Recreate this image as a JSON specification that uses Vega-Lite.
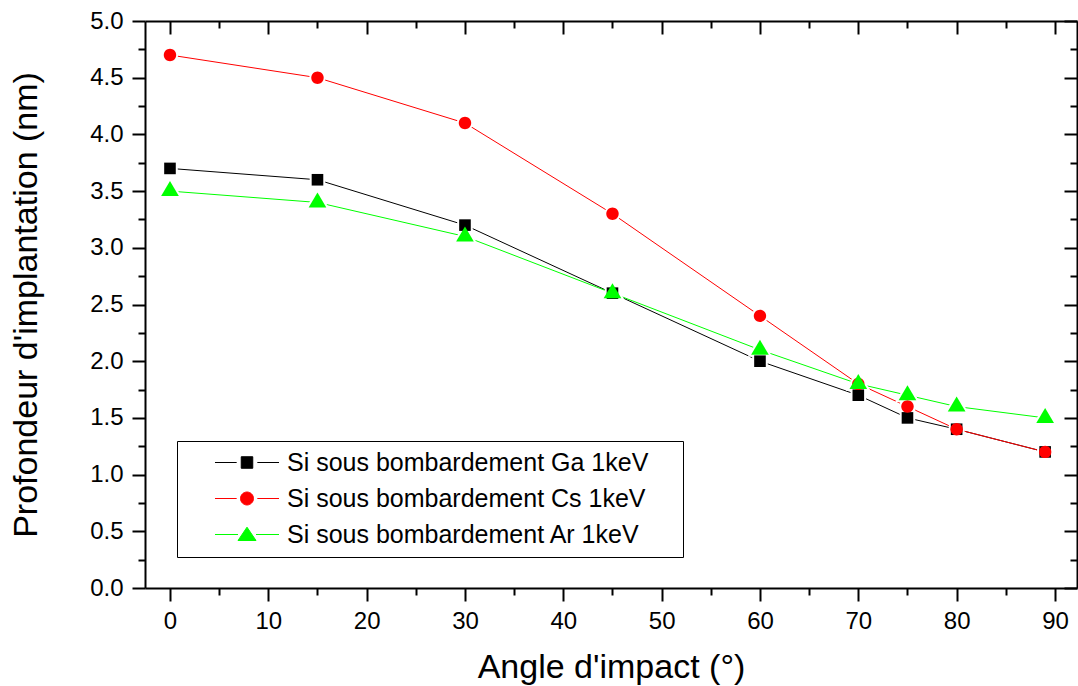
{
  "$schema": "https://vega.github.io/schema/vega-lite/v6.json",
  "width": 932,
  "height": 567,
  "autosize": {"type": "none"},
  "padding": {"left": 145, "top": 21, "right": 1, "bottom": 98},
  "background": "white",
  "config": {
    "font": "Liberation Sans",
    "view": {"stroke": null},
    "axis": {"grid": false}
  },
  "resolve": {"scale": {"shape": "independent", "fill": "independent", "stroke": "independent"}},
  "data": {
    "values": [
      {"angle": 0, "depth": 3.7, "series": "Si sous bombardement Ga 1keV"},
      {"angle": 15, "depth": 3.6, "series": "Si sous bombardement Ga 1keV"},
      {"angle": 30, "depth": 3.2, "series": "Si sous bombardement Ga 1keV"},
      {"angle": 45, "depth": 2.6, "series": "Si sous bombardement Ga 1keV"},
      {"angle": 60, "depth": 2.0, "series": "Si sous bombardement Ga 1keV"},
      {"angle": 70, "depth": 1.7, "series": "Si sous bombardement Ga 1keV"},
      {"angle": 75, "depth": 1.5, "series": "Si sous bombardement Ga 1keV"},
      {"angle": 80, "depth": 1.4, "series": "Si sous bombardement Ga 1keV"},
      {"angle": 89, "depth": 1.2, "series": "Si sous bombardement Ga 1keV"},
      {"angle": 0, "depth": 4.7, "series": "Si sous bombardement Cs 1keV"},
      {"angle": 15, "depth": 4.5, "series": "Si sous bombardement Cs 1keV"},
      {"angle": 30, "depth": 4.1, "series": "Si sous bombardement Cs 1keV"},
      {"angle": 45, "depth": 3.3, "series": "Si sous bombardement Cs 1keV"},
      {"angle": 60, "depth": 2.4, "series": "Si sous bombardement Cs 1keV"},
      {"angle": 70, "depth": 1.8, "series": "Si sous bombardement Cs 1keV"},
      {"angle": 75, "depth": 1.6, "series": "Si sous bombardement Cs 1keV"},
      {"angle": 80, "depth": 1.4, "series": "Si sous bombardement Cs 1keV"},
      {"angle": 89, "depth": 1.2, "series": "Si sous bombardement Cs 1keV"},
      {"angle": 0, "depth": 3.5, "series": "Si sous bombardement Ar 1keV"},
      {"angle": 15, "depth": 3.4, "series": "Si sous bombardement Ar 1keV"},
      {"angle": 30, "depth": 3.1, "series": "Si sous bombardement Ar 1keV"},
      {"angle": 45, "depth": 2.6, "series": "Si sous bombardement Ar 1keV"},
      {"angle": 60, "depth": 2.1, "series": "Si sous bombardement Ar 1keV"},
      {"angle": 70, "depth": 1.8, "series": "Si sous bombardement Ar 1keV"},
      {"angle": 75, "depth": 1.7, "series": "Si sous bombardement Ar 1keV"},
      {"angle": 80, "depth": 1.6, "series": "Si sous bombardement Ar 1keV"},
      {"angle": 89, "depth": 1.5, "series": "Si sous bombardement Ar 1keV"}
    ]
  },
  "layer": [
    {
      "mark": {"type": "line", "strokeWidth": 1},
      "encoding": {
        "x": {
          "field": "angle", "type": "quantitative",
          "scale": {"domain": [-2.54, 92.24], "nice": false, "zero": false},
          "axis": {
            "orient": "bottom",
            "title": "Angle d'impact (°)",
            "values": [0, 5, 10, 15, 20, 25, 30, 35, 40, 45, 50, 55, 60, 65, 70, 75, 80, 85, 90],
            "labelExpr": "datum.value % 10 === 0 ? datum.label : ''",
            "tickSize": {"expr": "datum.value % 10 === 0 ? 13 : 7"},
            "tickWidth": 2, "tickColor": "black",
            "domainWidth": 2, "domainColor": "black",
            "labelFontSize": 24, "labelColor": "black", "labelPadding": 8, "labelFlush": false, "labelOverlap": false,
            "titleFontSize": 34, "titleFontWeight": "normal", "titleColor": "black", "titlePadding": 17
          }
        },
        "y": {
          "field": "depth", "type": "quantitative",
          "scale": {"domain": [0, 5], "nice": false, "zero": false},
          "axis": {
            "orient": "left",
            "title": "Profondeur d'implantation (nm)",
            "values": [0, 0.25, 0.5, 0.75, 1, 1.25, 1.5, 1.75, 2, 2.25, 2.5, 2.75, 3, 3.25, 3.5, 3.75, 4, 4.25, 4.5, 4.75, 5],
            "format": ".1f",
            "labelExpr": "(datum.value * 2) % 1 === 0 ? datum.label : ''",
            "tickSize": {"expr": "(datum.value * 2) % 1 === 0 ? 13 : 7"},
            "tickWidth": 2, "tickColor": "black",
            "domainWidth": 2, "domainColor": "black",
            "labelFontSize": 24, "labelColor": "black", "labelPadding": 9, "labelFlush": false, "labelOverlap": false,
            "titleFontSize": 34, "titleFontWeight": "normal", "titleColor": "black", "titlePadding": 46
          }
        },
        "color": {
          "field": "series", "type": "nominal",
          "scale": {
            "domain": ["Si sous bombardement Ga 1keV", "Si sous bombardement Cs 1keV", "Si sous bombardement Ar 1keV"],
            "range": ["#000000", "#ff0000", "#00ff00"]
          },
          "legend": null
        }
      }
    },
    {
      "mark": {"type": "point", "filled": true, "fill": "white", "stroke": "white", "strokeWidth": 4, "opacity": 1, "size": 400},
      "encoding": {
        "x": {
          "field": "angle", "type": "quantitative",
          "scale": {"domain": [-2.54, 92.24], "nice": false, "zero": false},
          "axis": {
            "orient": "top", "title": null, "labels": false,
            "values": [0, 5, 10, 15, 20, 25, 30, 35, 40, 45, 50, 55, 60, 65, 70, 75, 80, 85, 90],
            "tickSize": {"expr": "datum.value % 10 === 0 ? -13 : -7"},
            "tickWidth": 2, "tickColor": "black",
            "domainWidth": 2, "domainColor": "black"
          }
        },
        "y": {
          "field": "depth", "type": "quantitative",
          "scale": {"domain": [0, 5], "nice": false, "zero": false},
          "axis": {
            "orient": "right", "title": null, "labels": false,
            "values": [0, 0.25, 0.5, 0.75, 1, 1.25, 1.5, 1.75, 2, 2.25, 2.5, 2.75, 3, 3.25, 3.5, 3.75, 4, 4.25, 4.5, 4.75, 5],
            "tickSize": {"expr": "(datum.value * 2) % 1 === 0 ? -13 : -7"},
            "tickWidth": 2, "tickColor": "black",
            "domainWidth": 2, "domainColor": "black"
          }
        },
        "shape": {
          "field": "series", "type": "nominal",
          "scale": {
            "domain": ["Si sous bombardement Ga 1keV", "Si sous bombardement Cs 1keV", "Si sous bombardement Ar 1keV"],
            "range": ["M-0.58,-0.58H0.58V0.58H-0.58Z", "M-0.62,0A0.62,0.62,0,1,0,0.62,0A0.62,0.62,0,1,0,-0.62,0Z", "M0,-1L0.885,0.5L-0.885,0.5Z"]
          },
          "legend": null
        }
      }
    },
    {
      "mark": {"type": "point", "filled": true, "opacity": 1, "strokeWidth": 0, "size": 400},
      "encoding": {
        "x": {"field": "angle", "type": "quantitative", "scale": {"domain": [-2.54, 92.24], "nice": false, "zero": false}, "axis": null},
        "y": {"field": "depth", "type": "quantitative", "scale": {"domain": [0, 5], "nice": false, "zero": false}, "axis": null},
        "color": {
          "field": "series", "type": "nominal",
          "scale": {
            "domain": ["Si sous bombardement Ga 1keV", "Si sous bombardement Cs 1keV", "Si sous bombardement Ar 1keV"],
            "range": ["#000000", "#ff0000", "#00ff00"]
          },
          "legend": null
        },
        "shape": {
          "field": "series", "type": "nominal",
          "scale": {
            "domain": ["Si sous bombardement Ga 1keV", "Si sous bombardement Cs 1keV", "Si sous bombardement Ar 1keV"],
            "range": ["M-0.58,-0.58H0.58V0.58H-0.58Z", "M-0.62,0A0.62,0.62,0,1,0,0.62,0A0.62,0.62,0,1,0,-0.62,0Z", "M0,-1L0.885,0.5L-0.885,0.5Z"]
          },
          "legend": null
        }
      }
    },
    {
      "mark": {"type": "point", "filled": true, "opacity": 0, "strokeWidth": 1, "size": 576},
      "encoding": {
        "x": {"field": "angle", "type": "quantitative", "scale": {"domain": [-2.54, 92.24], "nice": false, "zero": false}, "axis": null},
        "y": {"field": "depth", "type": "quantitative", "scale": {"domain": [0, 5], "nice": false, "zero": false}, "axis": null},
        "fill": {
          "field": "series", "type": "nominal",
          "scale": {
            "domain": ["Si sous bombardement Ga 1keV", "Si sous bombardement Cs 1keV", "Si sous bombardement Ar 1keV"],
            "range": ["#000000", "#ff0000", "#00ff00"]
          },
          "legend": {
            "orient": "none", "legendX": 32, "legendY": 420, "title": null, "padding": 9,
            "strokeColor": "black", "fillColor": "white",
            "labelFontSize": 25, "labelColor": "black", "labelLimit": 1000,
            "labelOffset": 27.5, "symbolOffset": 48.5, "symbolSize": 576, "symbolStrokeWidth": 1, "symbolOpacity": 1,
            "rowPadding": 10,
            "labelExpr": "datum.label + '\u00a0\u2800'"
          }
        },
        "stroke": {
          "field": "series", "type": "nominal",
          "scale": {
            "domain": ["Si sous bombardement Ga 1keV", "Si sous bombardement Cs 1keV", "Si sous bombardement Ar 1keV"],
            "range": ["#000000", "#ff0000", "#00ff00"]
          },
          "legend": {
            "orient": "none", "legendX": 32, "legendY": 420, "title": null, "padding": 9,
            "strokeColor": "black", "fillColor": "white",
            "labelFontSize": 25, "labelColor": "black", "labelLimit": 1000,
            "labelOffset": 27.5, "symbolOffset": 48.5, "symbolSize": 576, "symbolStrokeWidth": 1, "symbolOpacity": 1,
            "rowPadding": 10,
            "labelExpr": "datum.label + '\u00a0\u2800'"
          }
        },
        "shape": {
          "field": "series", "type": "nominal",
          "scale": {
            "domain": ["Si sous bombardement Ga 1keV", "Si sous bombardement Cs 1keV", "Si sous bombardement Ar 1keV"],
            "range": [
              "M-2.667,0H-0.86M0.86,0H2.667M-0.48,-0.48H0.48V0.48H-0.48Z",
              "M-2.667,0H-0.86M0.86,0H2.667M-0.54,0A0.54,0.54,0,1,0,0.54,0A0.54,0.54,0,1,0,-0.54,0Z",
              "M-2.667,0H-0.75M0.75,0H2.667M0,-0.61L0.75,0.5L-0.75,0.5Z"
            ]
          },
          "legend": {
            "orient": "none", "legendX": 32, "legendY": 420, "title": null, "padding": 9,
            "strokeColor": "black", "fillColor": "white",
            "labelFontSize": 25, "labelColor": "black", "labelLimit": 1000,
            "labelOffset": 27.5, "symbolOffset": 48.5, "symbolSize": 576, "symbolStrokeWidth": 1, "symbolOpacity": 1,
            "rowPadding": 10,
            "labelExpr": "datum.label + '\u00a0\u2800'"
          }
        }
      }
    }
  ]
}
